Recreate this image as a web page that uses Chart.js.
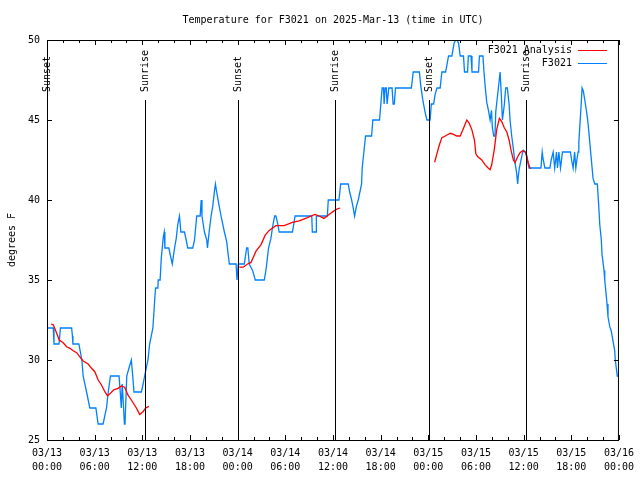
<!DOCTYPE html>
<html>
<head>
<meta charset="utf-8">
<title>Temperature for F3021</title>
<script src="https://cdn.jsdelivr.net/npm/chart.js@4.4.1/dist/chart.umd.min.js"></script>
<style>
  html, body { margin: 0; padding: 0; background: #fff; }
  #wrap { width: 640px; height: 480px; }
</style>
</head>
<body>
<div id="wrap"><canvas id="chart" width="640" height="480"></canvas></div>
<script>
/* ============================================================
   DATA  (hours since 03/13 00:00 UTC, degrees F)
   ============================================================ */

const chartTitle = 'Temperature for F3021 on 2025-Mar-13 (time in UTC)';
const yTitle = 'degrees F';

const xTickDates = ['03/13','03/13','03/13','03/13','03/14','03/14','03/14','03/14','03/15','03/15','03/15','03/15','03/16'];
const xTickTimes = ['00:00','06:00','12:00','18:00','00:00','06:00','12:00','18:00','00:00','06:00','12:00','18:00','00:00'];
const yTicks = [25, 30, 35, 40, 45, 50];

const sunLabels = ['Sunset', 'Sunrise', 'Sunset', 'Sunrise', 'Sunset', 'Sunrise'];
const sunHours  = [-0.05, 12.33, 24.0, 36.25, 48.04, 60.34];

// station observations, one block per day
const obsMar13 = [
  [0,32],[0.79,32],[0.88,31],[1.51,31],[1.69,32],[3.10,32],[3.20,31.5],[3.26,31],[4.01,31],[4.39,30],
  [4.55,29],[4.98,28],[5.39,27],[6.15,27],[6.44,26],[7.06,26],[7.49,27],[7.71,28],[7.99,29],[9.07,29],
  [9.22,28],[9.35,27],[9.47,28.5],[9.75,26],[9.82,26],[10.04,29],[10.32,29.5],[10.62,30],[10.79,29],[10.95,28],
  [11.88,28],[12.10,28.5],[12.29,29],[12.71,30],[12.92,31],[13.33,32],[13.59,34],[13.67,34.5],[13.96,34.5],[14.00,35],
  [14.24,35],[14.39,36.4],[14.51,37],[14.64,37.7],[14.76,38],[14.84,37],[15.34,37],[15.55,36.5],[15.77,36],[15.84,36],
  [16.06,37],[16.27,37.6],[16.47,38.5],[16.68,39],[16.85,38],[17.31,38],[17.52,37.5],[17.72,37],[18.35,37],[18.57,37.5],
  [18.85,39],[19.28,39],[19.41,40],[19.51,39],[19.82,38],[20.11,37.5],[20.20,37],[20.41,38],[20.66,39],[20.86,39.6],
  [21.07,40.5],[21.20,41],[21.36,40.5],[21.61,39.8],[21.91,39],[22.33,38],[22.62,37.4],[22.83,36.5],[22.96,36],[23.80,36],
  [23.92,35]
];
const obsMar14 = [
  [24.08,36],[24.84,36],[25.13,37],[25.28,37],[25.46,36],[25.88,35.6],[26.22,35],[27.35,35],[27.56,35.6],[27.89,37],
  [28.19,37.6],[28.39,38.3],[28.66,39],[28.81,39],[29.01,38.6],[29.23,38],[30.90,38],[31.23,39],[33.33,39],[33.40,38],
  [33.87,38],[33.91,39],[35.29,39],[35.41,40],[36.75,40],[36.97,41],[37.92,41],[38.10,40.5],[38.35,40],[38.51,39.6],
  [38.72,39],[38.95,39.6],[39.18,40],[39.39,40.5],[39.60,41],[39.68,42],[39.89,43],[40.10,44],[40.86,44],[41.02,45],
  [41.86,45],[41.99,45.8],[42.19,47],[42.36,47],[42.44,46],[42.56,47],[42.71,47],[42.81,46],[43.03,47],[43.44,47],
  [43.57,46],[43.72,46],[43.87,47],[45.87,47],[46.10,48],[46.88,48],[47.04,47.2],[47.29,46.3],[47.63,45.4],[47.83,45]
];
const obsMar15 = [
  [48.23,45],[48.38,46],[48.67,46],[48.86,46.6],[49.09,47],[49.49,47],[49.71,48],[50.18,48],[50.55,49],[50.97,49],
  [51.24,49.8],[51.46,50],[51.62,50],[51.81,49.8],[52.02,49],[52.43,49],[52.56,48],[52.94,48],[53.04,49],[53.38,49],
  [53.50,48],[54.32,48],[54.44,49],[54.88,49],[55.01,48],[55.16,47.1],[55.36,46.1],[55.57,45.6],[55.78,45],[55.95,45.6],
  [56.07,44.5],[56.24,44],[56.39,44],[56.49,45.5],[56.82,47],[57.04,48],[57.20,46.5],[57.33,45],[57.58,46],[57.74,47],
  [57.95,47],[58.17,46],[58.29,45],[58.50,44],[58.71,43.2],[58.92,42.3],[59.12,41.7],[59.25,41],[59.33,41.5],[59.46,42],
  [59.59,42.3],[59.84,42.9],[59.96,43.1],[60.25,43],[60.46,42.5],[60.68,42],[62.18,42],[62.34,43],[62.47,42.5],[62.68,42],
  [63.31,42],[63.47,42.5],[63.72,43],[63.91,42],[64.14,43],[64.26,42],[64.44,43],[64.64,42],[64.77,42.5],[64.89,43],
  [65.89,43],[66.04,42.5],[66.23,42],[66.42,43],[66.57,42],[66.70,42.5],[66.86,43],[66.95,43.6],[67.07,44.6],[67.20,45.6],
  [67.36,47],[67.52,46.8],[67.70,46.25],[67.90,45.6],[68.11,44.8],[68.33,43.6],[68.53,42.5],[68.74,41.35],[68.96,41],[69.28,41],
  [69.46,39.6],[69.58,38.5],[69.78,37.5],[69.87,36.6],[70.12,35.6],[70.21,35],[70.33,34.4],[70.50,33.5],[70.62,32.7],[70.84,32.1],
  [71.04,31.8],[71.25,31.2],[71.46,30.6],[71.54,30],[71.79,29],[71.96,29]
];

// analysis runs (three separate pieces, gaps between them)
const anaRun1 = [
  [0.50,32.25],[0.79,32.2],[1.22,31.67],[1.54,31.25],[2.04,31.08],[2.47,30.83],[2.89,30.73],[3.30,30.58],[3.73,30.46],[4.14,30.2],
  [4.55,29.94],[5.18,29.75],[5.61,29.48],[6.02,29.27],[6.44,28.75],[6.86,28.44],[7.28,28.02],[7.61,27.77],[7.99,27.92],[8.40,28.13],
  [8.94,28.23],[9.37,28.38],[9.78,28.3],[10.20,27.8],[10.62,27.5],[11.25,27.0],[11.67,26.6],[12.08,26.77],[12.42,27.0],[12.83,27.1]
];
const anaRun2 = [
  [24.21,35.8],[24.71,35.8],[25.25,36.0],[25.68,36.1],[26.31,36.8],[26.93,37.2],[27.47,37.8],[27.97,38.1],[28.81,38.4],[29.85,38.4],
  [30.90,38.6],[31.74,38.7],[32.78,38.9],[33.74,39.1],[34.25,39.0],[34.87,38.85],[35.50,39.1],[36.34,39.4],[36.88,39.5]
];
const anaRun3 = [
  [48.80,42.36],[49.09,42.9],[49.39,43.44],[49.71,43.9],[50.14,44.0],[50.77,44.17],[51.18,44.1],[51.59,44.0],[52.02,44.0],[52.43,44.48],
  [52.85,45.0],[53.15,44.8],[53.48,44.4],[53.81,43.75],[53.98,42.9],[54.23,42.7],[54.73,42.5],[55.16,42.19],[55.57,41.98],[55.78,41.9],
  [55.98,42.2],[56.32,43.2],[56.61,44.4],[56.95,45.1],[57.24,44.9],[57.58,44.5],[57.87,44.27],[58.17,43.75],[58.42,43.1],[58.71,42.5],
  [58.92,42.33],[59.25,42.7],[59.55,42.96],[59.87,43.08],[60.18,43.0],[60.38,42.8],[60.59,42.3],[60.80,42.0],[60.93,41.98]
];

/* ============================================================
   CHART
   ============================================================ */

const FONT = 'DejaVu Sans Mono, Liberation Mono, monospace';
Chart.defaults.font.family = FONT;
Chart.defaults.font.size = 10;
Chart.defaults.color = '#000';

const toXY = arr => arr.map(p => ({ x: p[0], y: p[1] }));
const gap = h => ({ x: h, y: null });

const observed = toXY([...obsMar13, ...obsMar14, ...obsMar15]);
const analysis = [...toXY(anaRun1), gap(18), ...toXY(anaRun2), gap(42), ...toXY(anaRun3)];

// gnuplot style frame, inward tics, sun markers, key
const gnuplotDecor = {
  id: 'gnuplotDecor',
  afterDatasetsDraw(chart) {
    const { ctx, chartArea: a, scales: { x, y } } = chart;
    const snap = v => Math.round(v) + 0.5;
    ctx.save();
    ctx.strokeStyle = '#000';
    ctx.fillStyle = '#000';
    ctx.lineWidth = 1;

    // sunrise / sunset lines
    ctx.beginPath();
    sunHours.forEach(h => {
      const px = snap(x.getPixelForValue(h));
      ctx.moveTo(px, a.top + a.height * 0.15);
      ctx.lineTo(px, a.bottom);
    });
    ctx.stroke();

    ctx.font = '10px ' + FONT;
    ctx.textAlign = 'left';
    ctx.textBaseline = 'middle';
    sunHours.forEach((h, i) => {
      ctx.save();
      ctx.translate(x.getPixelForValue(h) + 0.5, a.top + a.height * 0.13);
      ctx.rotate(-Math.PI / 2);
      ctx.fillText(sunLabels[i], 0, 0);
      ctx.restore();
    });

    // border
    ctx.strokeRect(a.left + 0.5, a.top + 0.5, a.width - 1, a.height);

    // tics (pointing in, mirrored)
    ctx.beginPath();
    yTicks.forEach(v => {
      const py = snap(y.getPixelForValue(v));
      ctx.moveTo(a.left, py); ctx.lineTo(a.left + 5, py);
      ctx.moveTo(a.right, py); ctx.lineTo(a.right - 5, py);
    });
    for (let h = 0; h <= x.max; h += 2) {
      const px = snap(x.getPixelForValue(h));
      const len = h % 6 === 0 ? 5 : 3;
      ctx.moveTo(px, a.bottom); ctx.lineTo(px, a.bottom - len);
      ctx.moveTo(px, a.top); ctx.lineTo(px, a.top + len);
    }
    ctx.stroke();

    // key
    ctx.textAlign = 'right';
    chart.data.datasets.forEach((ds, i) => {
      const ky = snap(a.top + 10 + i * 12.5);
      ctx.fillStyle = '#000';
      ctx.fillText(ds.label, a.right - 47, ky);
      ctx.strokeStyle = ds.borderColor;
      ctx.lineWidth = 1;
      ctx.beginPath();
      ctx.moveTo(a.right - 41, ky);
      ctx.lineTo(a.right - 12, ky);
      ctx.stroke();
    });
    ctx.restore();
  }
};

new Chart(document.getElementById('chart').getContext('2d'), {
  type: 'line',
  data: {
    datasets: [
      { label: 'F3021 Analysis', data: analysis, borderColor: '#ff0000', borderWidth: 1.3, pointRadius: 0, spanGaps: false },
      { label: 'F3021', data: observed, borderColor: 'rgb(0,128,255)', borderWidth: 1.3, pointRadius: 0 }
    ]
  },
  options: {
    responsive: false,
    animation: false,
    devicePixelRatio: 1,
    layout: { padding: { left: 0, right: 19, top: 0, bottom: 0 } },
    plugins: {
      legend: { display: false },
      tooltip: { enabled: false },
      title: {
        display: true,
        text: chartTitle,
        fullSize: false,
        color: '#000',
        font: { family: FONT, size: 10, weight: 'normal', lineHeight: 1.2 },
        padding: { top: 14, bottom: 14 }
      }
    },
    scales: {
      x: {
        type: 'linear',
        min: 0,
        max: 72,
        grid: { display: false, drawTicks: false },
        border: { display: false },
        ticks: {
          stepSize: 6,
          autoSkip: false,
          maxRotation: 0,
          padding: 6,
          color: '#000',
          font: { size: 10, lineHeight: 1.4 },
          callback: (v, i) => [xTickDates[i], xTickTimes[i]]
        },
        afterFit: s => { s.height = 40; }
      },
      y: {
        min: 25,
        max: 50,
        grid: { display: false, drawTicks: false },
        border: { display: false },
        ticks: { stepSize: 5, padding: 7, color: '#000', callback: v => String(v) },
        title: { display: true, text: yTitle, color: '#000', font: { size: 10 }, padding: { top: 6, bottom: 0 } },
        afterFit: s => { s.width = 47; }
      }
    }
  },
  plugins: [gnuplotDecor]
});
</script>
</body>
</html>
